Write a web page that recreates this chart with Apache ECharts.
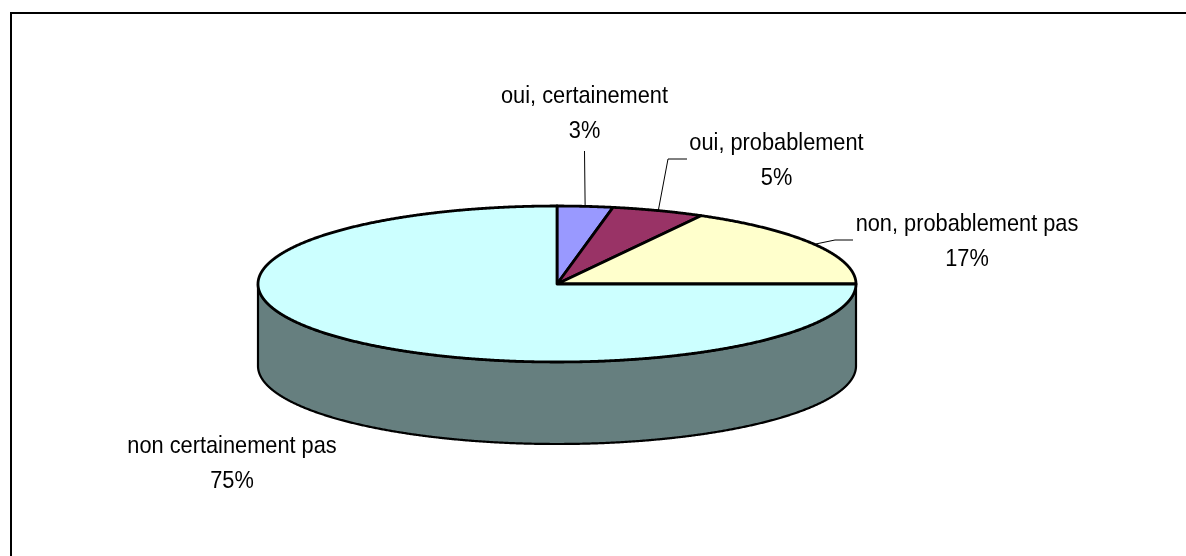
<!DOCTYPE html>
<html>
<head>
<meta charset="utf-8">
<style>
  html, body { margin: 0; padding: 0; background: #fff; }
  #chart { width: 1186px; height: 556px; }
</style>
<script src="https://cdn.jsdelivr.net/npm/echarts@6/dist/echarts.min.js"></script>
</head>
<body>
<div id="chart"></div>
<script>
// data
var categories = ['oui, certainement', 'oui, probablement', 'non, probablement pas', 'non certainement pas'];
var values = [3, 5, 17, 75];

// styles
var topColors = ['#9999FF', '#993366', '#FFFFCC', '#CCFFFF'];
var wallColors = ['#4C4C7F', '#4C1933', '#7F7F66', '#667F7F'];

// pie geometry
var cx = 557, cy = 284, rx = 299, ry = 78, depth = 82;
var total = values.reduce(function (a, b) { return a + b; }, 0);

// where the text sits, and the leader elbow (null = straight line)
var labelLayout = [
  { x: 584.5, y: 96, lineEnd: [584.5, 151], elbow: null },
  { x: 776.5, y: 143, lineEnd: [687, 159], elbow: [668, 159] },
  { x: 967, y: 224, lineEnd: [853, 240], elbow: [835, 240] },
  { x: 232, y: 446, lineEnd: null, elbow: null }
];
var lineGap = 35;

function pt(deg, dy) {
  var t = deg * Math.PI / 180;
  return [cx + rx * Math.sin(t), cy - ry * Math.cos(t) + (dy || 0)];
}

function arc(from, to, dy) {
  var pts = [];
  var n = Math.max(2, Math.ceil(Math.abs(to - from) * 4));
  for (var i = 0; i <= n; i++) {
    pts.push(pt(from + (to - from) * i / n, dy));
  }
  return pts;
}

function renderSlice(params, api) {
  var i = params.dataIndex;
  var start = 0;
  for (var k = 0; k < i; k++) start += values[k];
  start = start / total * 360;
  var end = start + api.value(1) / total * 360;
  var children = [];

  // side wall, only on the front half of the pie
  var wFrom = Math.max(start, 90), wTo = Math.min(end, 270);
  if (wTo > wFrom) {
    children.push({
      type: 'polygon',
      shape: { points: arc(wFrom, wTo, 0).concat(arc(wTo, wFrom, depth)) },
      style: { fill: wallColors[i], stroke: '#000', lineWidth: 2.2, lineJoin: 'round' }
    });
  }

  // top face
  children.push({
    type: 'polygon',
    shape: { points: [[cx, cy]].concat(arc(start, end, 0)) },
    style: { fill: topColors[i], stroke: '#000', lineWidth: 2.8, lineJoin: 'round' }
  });

  // leader line
  var lay = labelLayout[i];
  if (lay.lineEnd) {
    var linePts = [pt((start + end) / 2, 0)];
    if (lay.elbow) linePts.push(lay.elbow);
    linePts.push(lay.lineEnd);
    children.push({
      type: 'polyline',
      shape: { points: linePts },
      style: { fill: null, stroke: '#000', lineWidth: 1 }
    });
  }

  // label, two lines; the reference text is a bit narrower than plain Arial
  [categories[i], api.value(1) + '%'].forEach(function (txt, n) {
    children.push({
      type: 'text',
      x: lay.x,
      y: lay.y + n * lineGap,
      scaleX: 0.9,
      style: {
        text: txt,
        x: 0,
        y: 0,
        align: 'center',
        verticalAlign: 'middle',
        fill: '#000',
        font: '24.2px "Liberation Sans", Arial, sans-serif'
      }
    });
  });

  return { type: 'group', children: children };
}

var chart = echarts.init(document.getElementById('chart'), null, { renderer: 'canvas' });
chart.setOption({
  animation: false,
  backgroundColor: '#fff',
  graphic: [
    { type: 'line', shape: { x1: 10, y1: 13, x2: 1186, y2: 13 }, style: { stroke: '#000', lineWidth: 2 } },
    { type: 'line', shape: { x1: 11, y1: 12, x2: 11, y2: 556 }, style: { stroke: '#000', lineWidth: 2 } }
  ],
  series: [{
    type: 'custom',
    coordinateSystem: 'none',
    renderItem: renderSlice,
    silent: true,
    data: categories.map(function (c, i) { return [i, values[i]]; })
  }]
});
</script>
</body>
</html>
